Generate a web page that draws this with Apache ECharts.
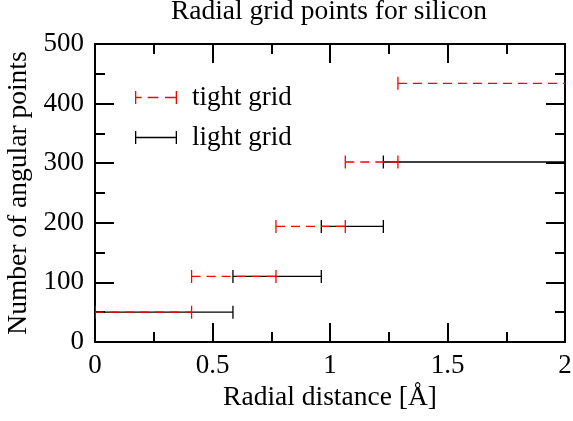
<!DOCTYPE html>
<html>
<head>
<meta charset="utf-8">
<script src="https://cdn.jsdelivr.net/npm/echarts@6/dist/echarts.min.js"></script>
<style>html,body{margin:0;padding:0;background:#fff}#c{width:573px;height:421px}</style>
</head>
<body>
<div id="c"></div>
<script>
// Data
const seriesNames = ['tight grid', 'light grid'];
const tightEdges = [0, 0.411, 0.770, 1.065, 1.289, 2.1];
const tightPoints = [50, 110, 194, 302, 434];
const lightEdges = [0, 0.587, 0.963, 1.227, 2.1];
const lightPoints = [50, 110, 194, 302];
const xTicks = [0, 0.5, 1, 1.5, 2];
const yTicks = [0, 100, 200, 300, 400, 500];

const FONT = 'Liberation Serif';
const FS = 27;
const FS_BIG = 27.5;

function buildData(edges, pts) {
  return pts.map((v, i) => [edges[i], edges[i + 1], v]);
}

function makeRender(color, dash) {
  return function (params, api) {
    const x1 = api.value(0), x2 = api.value(1), y = api.value(2);
    const p1 = api.coord([x1, y]), p2 = api.coord([x2, y]);
    const h = 6.5;
    const lw = 1.3;
    return {
      type: 'group',
      children: [
        { type: 'line', shape: { x1: p1[0], y1: p1[1], x2: p2[0], y2: p2[1] },
          style: { stroke: color, lineWidth: lw, lineDash: dash } },
        { type: 'line', shape: { x1: p1[0], y1: p1[1] - h, x2: p1[0], y2: p1[1] + h },
          style: { stroke: color, lineWidth: lw } },
        { type: 'line', shape: { x1: p2[0], y1: p2[1] - h, x2: p2[0], y2: p2[1] + h },
          style: { stroke: color, lineWidth: lw } }
      ]
    };
  };
}

const redIcon = 'path://M0,0H1.3V13H0Z M40.7,0H42V13H40.7Z M0,5.85H6.7V7.15H0Z M12.7,5.85H23.3V7.15H12.7Z M30,5.85H42V7.15H30Z';
const blackIcon = 'path://M0,0H1.3V13H0Z M40.7,0H42V13H40.7Z M0,5.85H42V7.15H0Z';

function axisCommon(onZero, extra) {
  return Object.assign({
    axisLine: { show: true, onZero: onZero, lineStyle: { color: '#000', width: 2 } },
    axisTick: { show: true, inside: true, length: 19, lineStyle: { color: '#000', width: 2 } },
    minorTick: { show: true, splitNumber: 2, length: 10, lineStyle: { color: '#000', width: 2 } },
    splitLine: { show: false },
    minorSplitLine: { show: false }
  }, extra);
}

const chart = echarts.init(document.getElementById('c'), null, { renderer: 'canvas' });
chart.setOption({
  animation: false,
  backgroundColor: '#fff',
  title: {
    text: 'Radial grid points for silicon',
    left: 324, top: -7, textAlign: 'center',
    textStyle: { fontFamily: FONT, fontSize: FS_BIG, fontWeight: 'normal', color: '#000' }
  },
  legend: {
    data: [
      { name: seriesNames[0], icon: redIcon },
      { name: seriesNames[1], icon: blackIcon }
    ],
    orient: 'vertical',
    left: 135, top: 84, padding: 0,
    itemWidth: 42, itemHeight: 13, itemGap: 13,
    selectedMode: false,
    itemStyle: { borderWidth: 0 },
    textStyle: { fontFamily: FONT, fontSize: FS, color: '#000', padding: [0, 0, 0, 10] }
  },
  grid: { left: 95, right: 8, top: 44, bottom: 79, containLabel: false, outerBoundsMode: 'none' },
  xAxis: [
    axisCommon(true, {
      type: 'value', position: 'bottom', min: xTicks[0], max: xTicks[xTicks.length - 1], interval: 0.5,
      name: 'Radial distance [Å]', nameLocation: 'middle', nameGap: 32,
      nameTextStyle: { fontFamily: FONT, fontSize: FS_BIG, color: '#000' },
      axisLabel: { fontFamily: FONT, fontSize: FS, color: '#000', margin: 10 }
    }),
    axisCommon(false, {
      type: 'value', position: 'top', min: xTicks[0], max: xTicks[xTicks.length - 1], interval: 0.5,
      axisLabel: { show: false }
    })
  ],
  yAxis: [
    axisCommon(true, {
      type: 'value', position: 'left', min: yTicks[0], max: yTicks[yTicks.length - 1], interval: 100,
      name: 'Number of angular points', nameLocation: 'middle', nameGap: 52, nameRotate: 90,
      nameTextStyle: { fontFamily: FONT, fontSize: FS_BIG, color: '#000' },
      axisLabel: { fontFamily: FONT, fontSize: FS, color: '#000', margin: 11 }
    }),
    axisCommon(false, {
      type: 'value', position: 'right', min: yTicks[0], max: yTicks[yTicks.length - 1], interval: 100,
      axisLabel: { show: false }
    })
  ],
  series: [
    {
      name: seriesNames[1], type: 'custom', clip: true,
      itemStyle: { color: '#000' },
      renderItem: makeRender('#000', null),
      encode: { x: [0, 1], y: 2 },
      data: buildData(lightEdges, lightPoints), z: 2
    },
    {
      name: seriesNames[0], type: 'custom', clip: true,
      itemStyle: { color: '#ff0000' },
      renderItem: makeRender('#ff0000', [9, 6]),
      encode: { x: [0, 1], y: 2 },
      data: buildData(tightEdges, tightPoints), z: 3
    }
  ]
});
</script>
</body>
</html>
